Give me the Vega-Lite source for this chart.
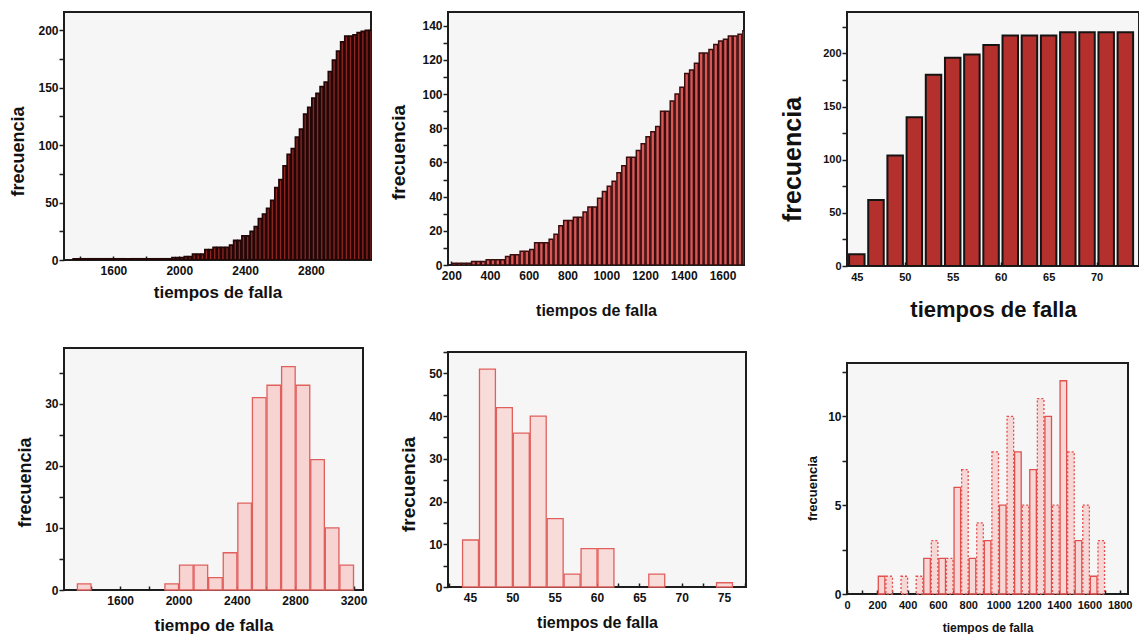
{
  "$schema": "https://vega.github.io/schema/vega-lite/v6.json",
  "background": "#ffffff",
  "padding": {"left": 8, "top": 11, "right": 0, "bottom": 0},
  "spacing": 16,
  "datasets": {
    "acumulada_larga": [
      {"t": 1350, "acum": 1}, {"t": 1375, "acum": 1}, {"t": 1400, "acum": 1}, {"t": 1425, "acum": 1},
      {"t": 1450, "acum": 1}, {"t": 1475, "acum": 1}, {"t": 1500, "acum": 1}, {"t": 1525, "acum": 1},
      {"t": 1550, "acum": 1}, {"t": 1575, "acum": 1}, {"t": 1600, "acum": 1}, {"t": 1625, "acum": 1},
      {"t": 1650, "acum": 1}, {"t": 1675, "acum": 1}, {"t": 1700, "acum": 1}, {"t": 1725, "acum": 1},
      {"t": 1750, "acum": 1}, {"t": 1775, "acum": 1}, {"t": 1800, "acum": 1}, {"t": 1825, "acum": 1},
      {"t": 1850, "acum": 1}, {"t": 1875, "acum": 1}, {"t": 1900, "acum": 1}, {"t": 1925, "acum": 1},
      {"t": 1950, "acum": 2}, {"t": 1975, "acum": 2}, {"t": 2000, "acum": 2}, {"t": 2025, "acum": 3},
      {"t": 2050, "acum": 3}, {"t": 2075, "acum": 5}, {"t": 2100, "acum": 5}, {"t": 2125, "acum": 5},
      {"t": 2150, "acum": 9}, {"t": 2175, "acum": 9}, {"t": 2200, "acum": 11}, {"t": 2225, "acum": 11},
      {"t": 2250, "acum": 11}, {"t": 2275, "acum": 11}, {"t": 2300, "acum": 13}, {"t": 2325, "acum": 17},
      {"t": 2350, "acum": 17}, {"t": 2375, "acum": 21}, {"t": 2400, "acum": 21}, {"t": 2425, "acum": 25},
      {"t": 2450, "acum": 29}, {"t": 2475, "acum": 36}, {"t": 2500, "acum": 40}, {"t": 2525, "acum": 45},
      {"t": 2550, "acum": 52}, {"t": 2575, "acum": 63}, {"t": 2600, "acum": 70}, {"t": 2625, "acum": 82},
      {"t": 2650, "acum": 92}, {"t": 2675, "acum": 97}, {"t": 2700, "acum": 107}, {"t": 2725, "acum": 114},
      {"t": 2750, "acum": 127}, {"t": 2775, "acum": 133}, {"t": 2800, "acum": 141}, {"t": 2825, "acum": 145},
      {"t": 2850, "acum": 151}, {"t": 2875, "acum": 155}, {"t": 2900, "acum": 164}, {"t": 2925, "acum": 174},
      {"t": 2950, "acum": 182}, {"t": 2975, "acum": 190}, {"t": 3000, "acum": 195}, {"t": 3025, "acum": 195},
      {"t": 3050, "acum": 196}, {"t": 3075, "acum": 198}, {"t": 3100, "acum": 199}, {"t": 3125, "acum": 200},
      {"t": 3150, "acum": 200}
    ],
    "acumulada_corta": [
      {"t": 200, "acum": 1}, {"t": 225, "acum": 1}, {"t": 250, "acum": 1}, {"t": 275, "acum": 1},
      {"t": 300, "acum": 2}, {"t": 325, "acum": 2}, {"t": 350, "acum": 2}, {"t": 375, "acum": 3},
      {"t": 400, "acum": 3}, {"t": 425, "acum": 3}, {"t": 450, "acum": 3}, {"t": 475, "acum": 5},
      {"t": 500, "acum": 6}, {"t": 525, "acum": 6}, {"t": 550, "acum": 8}, {"t": 575, "acum": 8},
      {"t": 600, "acum": 9}, {"t": 625, "acum": 13}, {"t": 650, "acum": 13}, {"t": 675, "acum": 13},
      {"t": 700, "acum": 15}, {"t": 725, "acum": 18}, {"t": 750, "acum": 23}, {"t": 775, "acum": 26},
      {"t": 800, "acum": 26}, {"t": 825, "acum": 28}, {"t": 850, "acum": 28}, {"t": 875, "acum": 31},
      {"t": 900, "acum": 34}, {"t": 925, "acum": 34}, {"t": 950, "acum": 39}, {"t": 975, "acum": 43},
      {"t": 1000, "acum": 46}, {"t": 1025, "acum": 49}, {"t": 1050, "acum": 54}, {"t": 1075, "acum": 58},
      {"t": 1100, "acum": 63}, {"t": 1125, "acum": 63}, {"t": 1150, "acum": 67}, {"t": 1175, "acum": 71},
      {"t": 1200, "acum": 75}, {"t": 1225, "acum": 78}, {"t": 1250, "acum": 81}, {"t": 1275, "acum": 90},
      {"t": 1300, "acum": 90}, {"t": 1325, "acum": 96}, {"t": 1350, "acum": 100}, {"t": 1375, "acum": 104},
      {"t": 1400, "acum": 112}, {"t": 1425, "acum": 114}, {"t": 1450, "acum": 118}, {"t": 1475, "acum": 124},
      {"t": 1500, "acum": 124}, {"t": 1525, "acum": 126}, {"t": 1550, "acum": 129}, {"t": 1575, "acum": 131},
      {"t": 1600, "acum": 132}, {"t": 1625, "acum": 134}, {"t": 1650, "acum": 134}, {"t": 1675, "acum": 135},
      {"t": 1700, "acum": 137}
    ],
    "acumulada_clases": [
      {"t": 45, "acum": 11}, {"t": 47, "acum": 62}, {"t": 49, "acum": 104}, {"t": 51, "acum": 140},
      {"t": 53, "acum": 180}, {"t": 55, "acum": 196}, {"t": 57, "acum": 199}, {"t": 59, "acum": 208},
      {"t": 61, "acum": 217}, {"t": 63, "acum": 217}, {"t": 65, "acum": 217}, {"t": 67, "acum": 220},
      {"t": 69, "acum": 220}, {"t": 71, "acum": 220}, {"t": 73, "acum": 220}
    ],
    "histograma_largo": [
      {"t": 1300, "n": 1}, {"t": 1900, "n": 1}, {"t": 2000, "n": 4}, {"t": 2100, "n": 4},
      {"t": 2200, "n": 2}, {"t": 2300, "n": 6}, {"t": 2400, "n": 14}, {"t": 2500, "n": 31},
      {"t": 2600, "n": 33}, {"t": 2700, "n": 36}, {"t": 2800, "n": 33}, {"t": 2900, "n": 21},
      {"t": 3000, "n": 10}, {"t": 3100, "n": 4}
    ],
    "histograma_clases": [
      {"t": 44, "n": 11}, {"t": 46, "n": 51}, {"t": 48, "n": 42}, {"t": 50, "n": 36},
      {"t": 52, "n": 40}, {"t": 54, "n": 16}, {"t": 56, "n": 3}, {"t": 58, "n": 9},
      {"t": 60, "n": 9}, {"t": 66, "n": 3}, {"t": 74, "n": 1}
    ],
    "histograma_corto": [
      {"t": 200, "n": 1}, {"t": 250, "n": 1}, {"t": 350, "n": 1}, {"t": 450, "n": 1},
      {"t": 500, "n": 2}, {"t": 550, "n": 3}, {"t": 600, "n": 2}, {"t": 650, "n": 2},
      {"t": 700, "n": 6}, {"t": 750, "n": 7}, {"t": 800, "n": 2}, {"t": 850, "n": 4},
      {"t": 900, "n": 3}, {"t": 950, "n": 8}, {"t": 1000, "n": 5}, {"t": 1050, "n": 10},
      {"t": 1100, "n": 8}, {"t": 1150, "n": 5}, {"t": 1200, "n": 7}, {"t": 1250, "n": 11},
      {"t": 1300, "n": 10}, {"t": 1350, "n": 5}, {"t": 1400, "n": 12}, {"t": 1450, "n": 8},
      {"t": 1500, "n": 3}, {"t": 1550, "n": 5}, {"t": 1600, "n": 1}, {"t": 1650, "n": 3}
    ]
  },
  "hconcat": [
    {
      "bounds": "flush",
      "spacing": 88,
      "vconcat": [
        {
          "width": 307,
          "height": 248,
          "data": {"name": "acumulada_larga"},
          "mark": {"type": "bar", "fill": "#8c2622", "stroke": "#230707", "strokeWidth": 1.8, "clip": true},
          "encoding": {
            "x": {
              "field": "t", "type": "quantitative", "bin": {"binned": true, "step": 25},
              "scale": {"domain": [1300, 3165], "nice": false, "zero": false},
              "axis": {
                "title": "tiempos de falla", "titleFontSize": 17, "titlePadding": 8, "format": "d",
                "values": [1400, 1600, 1800, 2000, 2200, 2400, 2600, 2800, 3000],
                "labelExpr": "datum.value % 400 == 0 ? datum.label : ''"
              }
            },
            "y": {
              "field": "acum", "type": "quantitative",
              "scale": {"domain": [0, 216], "nice": false},
              "axis": {
                "title": "frecuencia", "titleFontSize": 18, "titleY": 139, "format": "d",
                "values": [0, 25, 50, 75, 100, 125, 150, 175, 200],
                "labelExpr": "datum.value % 50 == 0 ? datum.label : ''"
              }
            }
          }
        },
        {
          "width": 299,
          "height": 242,
          "data": {"name": "histograma_largo"},
          "mark": {"type": "bar", "fill": "#f7d3d1", "stroke": "#e0605d", "strokeWidth": 1.3},
          "encoding": {
            "x": {
              "field": "t", "type": "quantitative", "bin": {"binned": true, "step": 100},
              "scale": {"domain": [1215, 3265], "nice": false, "zero": false},
              "axis": {
                "title": "tiempo de falla", "titleFontSize": 17, "titlePadding": 11, "format": "d",
                "values": [1400, 1600, 1800, 2000, 2200, 2400, 2600, 2800, 3000, 3200],
                "labelExpr": "datum.value % 400 == 0 ? datum.label : ''"
              }
            },
            "y": {
              "field": "n", "type": "quantitative",
              "scale": {"domain": [0, 39], "nice": false},
              "axis": {
                "title": "frecuencia", "titleFontSize": 18, "titleY": 134, "format": "d",
                "values": [0, 5, 10, 15, 20, 25, 30, 35],
                "labelExpr": "datum.value % 10 == 0 ? datum.label : ''"
              }
            }
          }
        }
      ]
    },
    {
      "spacing": 32,
      "hconcat": [
        {
          "bounds": "flush",
          "spacing": 87,
          "vconcat": [
            {
              "width": 296,
              "height": 253,
              "data": {"name": "acumulada_corta"},
              "mark": {"type": "bar", "fill": "#d85858", "stroke": "#3a0e0e", "strokeWidth": 1.5, "clip": true},
              "encoding": {
                "x": {
                  "field": "t", "type": "quantitative", "bin": {"binned": true, "step": 25},
                  "scale": {"domain": [183, 1711], "nice": false, "zero": false},
                  "axis": {
                    "title": "tiempos de falla", "titleFontSize": 16, "titlePadding": 21, "format": "d",
                    "values": [200, 300, 400, 500, 600, 700, 800, 900, 1000, 1100, 1200, 1300, 1400, 1500, 1600, 1700],
                    "labelExpr": "datum.value % 200 == 0 && datum.value <= 1600 ? datum.label : ''"
                  }
                },
                "y": {
                  "field": "acum", "type": "quantitative",
                  "scale": {"domain": [0, 148], "nice": false},
                  "axis": {
                    "title": "frecuencia", "titleFontSize": 19, "titleY": 140, "titlePadding": 13, "format": "d",
                    "values": [0, 10, 20, 30, 40, 50, 60, 70, 80, 90, 100, 110, 120, 130, 140],
                    "labelExpr": "datum.value % 20 == 0 ? datum.label : ''"
                  }
                }
              }
            },
            {
              "width": 298,
              "height": 235,
              "data": {"name": "histograma_clases"},
              "mark": {"type": "bar", "fill": "#f8dcda", "stroke": "#e0605d", "strokeWidth": 1.3},
              "encoding": {
                "x": {
                  "field": "t", "type": "quantitative", "bin": {"binned": true, "step": 2},
                  "scale": {"domain": [42.4, 77.6], "nice": false, "zero": false},
                  "axis": {
                    "title": "tiempos de falla", "titleFontSize": 16, "titlePadding": 11, "format": "d",
                    "values": [42.5, 45, 47.5, 50, 52.5, 55, 57.5, 60, 62.5, 65, 67.5, 70, 72.5, 75, 77.5],
                    "labelExpr": "datum.value % 5 == 0 ? datum.label : ''"
                  }
                },
                "y": {
                  "field": "n", "type": "quantitative",
                  "scale": {"domain": [0, 55], "nice": false},
                  "axis": {
                    "title": "frecuencia", "titleFontSize": 19, "titleY": 132, "format": "d",
                    "values": [0, 5, 10, 15, 20, 25, 30, 35, 40, 45, 50, 55],
                    "labelExpr": "datum.value % 10 == 0 ? datum.label : ''"
                  }
                }
              }
            }
          ]
        },
        {
          "bounds": "flush",
          "spacing": 97,
          "vconcat": [
            {
              "width": 292,
              "height": 254,
              "data": {"name": "acumulada_clases"},
              "mark": {"type": "bar", "size": 15.5, "fill": "#b3302c", "stroke": "#141414", "strokeWidth": 2, "clip": true},
              "encoding": {
                "x": {
                  "field": "t", "type": "quantitative",
                  "scale": {"domain": [44.5, 73.9], "nice": false, "zero": false},
                  "axis": {
                    "title": "tiempos de falla", "titleFontSize": 22, "titlePadding": 17, "format": "d", "labelFontSize": 11,
                    "values": [45, 47.5, 50, 52.5, 55, 57.5, 60, 62.5, 65, 67.5, 70, 72.5],
                    "labelExpr": "datum.value % 5 == 0 ? datum.label : ''"
                  }
                },
                "y": {
                  "field": "acum", "type": "quantitative",
                  "scale": {"domain": [0, 239], "nice": false},
                  "axis": {
                    "title": "frecuencia", "titleFontSize": 25, "titleY": 147, "titlePadding": 17, "format": "d", "labelFontSize": 11,
                    "values": [0, 25, 50, 75, 100, 125, 150, 175, 200, 225],
                    "labelExpr": "datum.value % 50 == 0 ? datum.label : ''"
                  }
                }
              }
            },
            {
              "width": 281,
              "height": 231,
              "data": {"name": "histograma_corto"},
              "mark": {"type": "bar", "fill": "#f6d0ce", "fillOpacity": 0.8, "stroke": "#e24f4c", "strokeWidth": 1.3},
              "encoding": {
                "x": {
                  "field": "t", "type": "quantitative", "bin": {"binned": true, "step": 50},
                  "scale": {"domain": [0, 1855], "nice": false, "zero": false},
                  "axis": {
                    "title": "tiempos de falla", "titleFontSize": 12, "titlePadding": 12, "format": "d", "labelFontSize": 11,
                    "values": [0, 100, 200, 300, 400, 500, 600, 700, 800, 900, 1000, 1100, 1200, 1300, 1400, 1500, 1600, 1700, 1800],
                    "labelExpr": "datum.value % 200 == 0 ? datum.label : ''"
                  }
                },
                "y": {
                  "field": "n", "type": "quantitative",
                  "scale": {"domain": [0, 13], "nice": false},
                  "axis": {
                    "title": "frecuencia", "titleFontSize": 13, "titleY": 125, "titlePadding": 8, "format": "d",
                    "values": [0, 2.5, 5, 7.5, 10, 12.5],
                    "labelExpr": "datum.value % 5 == 0 ? datum.label : ''"
                  }
                },
                "strokeDash": {
                  "condition": {"test": "(datum.t / 50) % 2 == 1", "value": [2, 2]},
                  "value": [1, 0]
                }
              }
            }
          ]
        }
      ]
    }
  ],
  "config": {
    "font": "Liberation Sans",
    "view": {"stroke": "#1d1d1d", "strokeWidth": 2, "fill": "#f6f6f6"},
    "axis": {
      "domain": false,
      "grid": false,
      "labelFont": "Liberation Sans",
      "labelFontWeight": "bold",
      "labelFontSize": 12,
      "labelColor": "#111111",
      "labelFlush": false,
      "labelOverlap": false,
      "labelBound": false,
      "tickColor": "#1d1d1d",
      "tickWidth": 1.5,
      "titleFont": "Liberation Sans",
      "titleFontWeight": "bold",
      "titleColor": "#111111"
    },
    "axisX": {"tickSize": -4, "labelPadding": 9},
    "axisY": {"tickSize": 5, "labelPadding": 1, "titlePadding": 10}
  }
}
